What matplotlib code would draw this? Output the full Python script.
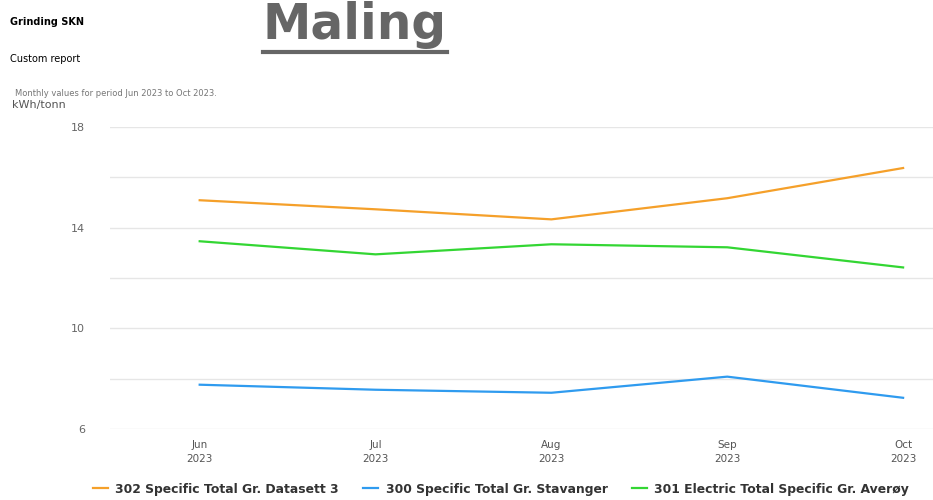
import matplotlib
matplotlib.use("Agg")
import matplotlib.pyplot as plt
from matplotlib.lines import Line2D

months = ["Jun\n2023", "Jul\n2023", "Aug\n2023", "Sep\n2023", "Oct\n2023"]
series_names = [
    "302 Specific Total Gr. Datasett 3",
    "300 Specific Total Gr. Stavanger",
    "301 Electric Total Specific Gr. Averøy",
]
datasett3 = [15.09, 14.73, 14.33, 15.17, 16.37]
stavanger = [7.76, 7.56, 7.44, 8.08, 7.24]
averoy = [13.46, 12.94, 13.34, 13.22, 12.42]
colors = ["#f5a02a", "#2f9bef", "#33d633"]
yticks = [6, 10, 14, 18]

fig = plt.figure(figsize=(9.33, 5.0), dpi=100)
ax = fig.add_axes([110 / 933, 1 - 429 / 500, 823 / 933, (429 - 127) / 500])

x = list(range(len(months)))
for vals, c, name in zip([datasett3, stavanger, averoy], colors, series_names):
    ax.plot(x, vals, color=c, linewidth=1.6, label=name)

ax.set_ylim(6, 18)
ax.set_xlim(-0.51, 4.17)
ax.set_yticks(yticks)
ax.set_yticks([8, 12, 16], minor=True)
ax.grid(axis="y", which="both", color="#e6e6e6", linewidth=1)
ax.set_axisbelow(True)
ax.set_xticks(x)
ax.set_xticklabels(months, fontsize=7.5, color="#555555", linespacing=1.5)
ax.tick_params(axis="y", which="both", length=0, labelsize=8, labelcolor="#666666", pad=18)
ax.tick_params(axis="x", length=0, pad=8)
for s in ax.spines.values():
    s.set_visible(False)

fig.legend(loc="center", bbox_to_anchor=(0.537, 1 - 489 / 500), ncol=3, frameon=False,
           prop={"size": 8.9, "weight": "bold"}, labelcolor="#333333",
           handlelength=1.2, handletextpad=0.6, columnspacing=2.0)

fig.text(10 / 933, 1 - 22 / 500, "Grinding SKN", fontsize=7, fontweight="bold", va="center")
fig.text(10 / 933, 1 - 59 / 500, "Custom report", fontsize=7, va="center")
fig.text(15 / 933, 1 - 93 / 500, "Monthly values for period Jun 2023 to Oct 2023.",
         fontsize=6, color="#777777", va="center")
fig.text(12 / 933, 1 - 105 / 500, "kWh/tonn", fontsize=8, color="#555555", va="center")
fig.text(355 / 933, 1 - 39 / 500, "Maling", fontsize=35, fontweight="bold",
         color="#666666", ha="center", va="baseline")
fig.add_artist(Line2D([263 / 933, 447 / 933], [1 - 52 / 500, 1 - 52 / 500],
                      color="#666666", linewidth=3, transform=fig.transFigure))

fig.savefig("out.png", dpi=100)
